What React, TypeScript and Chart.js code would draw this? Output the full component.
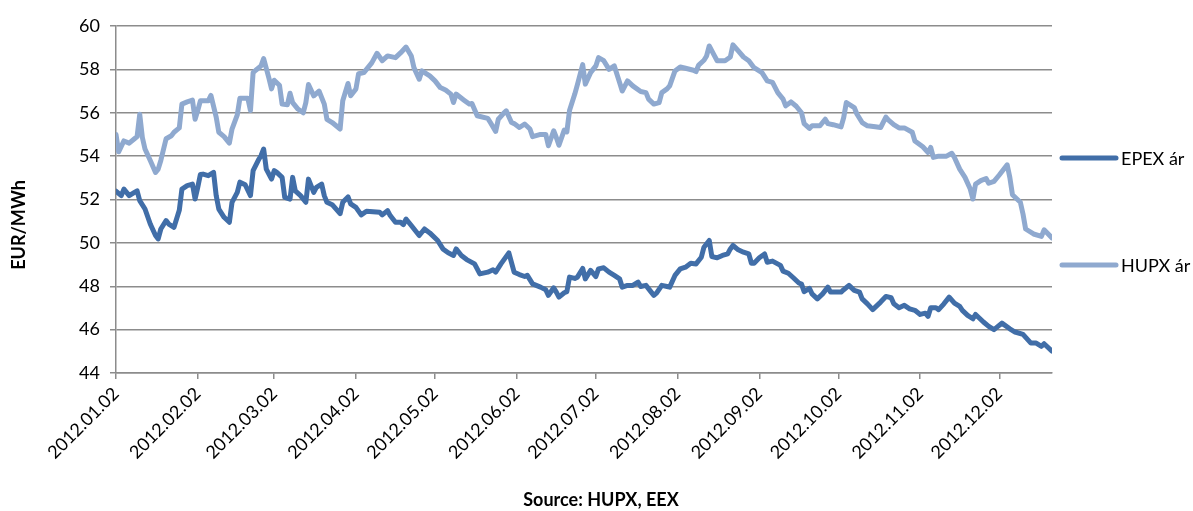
import React, { useEffect, useRef } from "react";
import { Chart, registerables } from "chart.js";

Chart.register(...registerables);

// Days counted from 2012.01.02 (day 0)
const monthTickDays = [0, 31, 60, 91, 121, 152, 182, 213, 244, 274, 305, 335];
const monthTickLabels = [
  "2012.01.02", "2012.02.02", "2012.03.02", "2012.04.02", "2012.05.02", "2012.06.02",
  "2012.07.02", "2012.08.02", "2012.09.02", "2012.10.02", "2012.11.02", "2012.12.02",
];

const epexDays = [
  0, 2, 3, 5, 7, 8, 9, 11, 13, 15, 16, 17, 19, 20, 22, 24, 25, 27, 29, 30, 31, 32, 33, 35, 37, 38, 39, 41, 43, 44,
  46, 47, 49, 51, 52, 54, 55, 56, 57, 59, 60, 61, 63, 64, 66, 67, 68, 70, 72, 73, 75, 76, 78, 79, 80, 82, 85, 86, 88, 89,
  91, 93, 95, 100, 101, 103, 104, 106, 108, 109, 110, 112, 115, 117, 119, 122, 124, 126, 128, 129, 131, 133, 136, 138, 141, 143, 144, 146, 149, 151,
  153, 155, 156, 158, 161, 163, 164, 166, 167, 168, 170, 171, 172, 174, 175, 177, 178, 180, 182, 183, 185, 187, 189, 191, 192, 194, 196, 198, 199, 201,
  203, 204, 205, 207, 209, 210, 212, 214, 216, 218, 220, 222, 223, 225, 226, 228, 230, 232, 233, 234, 236, 238, 240, 241, 242, 244, 246, 247, 249, 252,
  253, 255, 257, 259, 260, 261, 263, 264, 266, 268, 270, 271, 275, 276, 278, 280, 282, 283, 285, 287, 290, 292, 294, 295, 297, 299, 301, 303, 305, 307,
  308, 309, 311, 312, 314, 316, 318, 320, 321, 323, 325, 326, 329, 331, 333, 336, 339, 341, 344, 347, 349, 351, 352, 355,
];
const epexValues = [
  52.38, 52.18, 52.48, 52.18, 52.33, 52.4, 51.95, 51.56, 50.87, 50.34, 50.18, 50.64, 51.03, 50.87, 50.72, 51.5, 52.48, 52.64, 52.71, 52.02, 52.56, 53.15, 53.17, 53.1, 53.25, 52.18, 51.56, 51.18, 50.95, 51.87,
  52.33, 52.8, 52.68, 52.18, 53.33, 53.82, 54.02, 54.33, 53.4, 52.94, 53.33, 53.25, 53.02, 52.1, 52.02, 53.02, 52.4, 52.18, 51.87, 52.94, 52.33, 52.56, 52.71, 52.18, 51.87, 51.76, 51.35, 51.87, 52.12, 51.8,
  51.64, 51.29, 51.46, 51.41, 51.29, 51.49, 51.26, 50.95, 50.95, 50.84, 51.1, 50.8, 50.34, 50.64, 50.46, 50.11, 49.72, 49.54, 49.42, 49.72, 49.42, 49.23, 49.03, 48.57, 48.65, 48.76, 48.65, 49.03, 49.54, 48.65,
  48.54, 48.45, 48.5, 48.11, 47.96, 47.84, 47.58, 47.93, 47.73, 47.5, 47.7, 47.75, 48.42, 48.36, 48.42, 48.82, 48.34, 48.73, 48.45, 48.8, 48.85, 48.65, 48.5, 48.34, 47.96, 48.04, 48.04, 48.19, 47.99, 48.04,
  47.73, 47.58, 47.68, 48.04, 47.99, 47.96, 48.5, 48.8, 48.88, 49.06, 49.03, 49.34, 49.8, 50.11, 49.37, 49.31, 49.42, 49.49, 49.72, 49.88, 49.68, 49.57, 49.49, 49.06, 49.06, 49.31, 49.49, 49.11, 49.16, 48.96,
  48.7, 48.6, 48.38, 48.15, 48.1, 47.75, 47.9, 47.65, 47.42, 47.65, 47.96, 47.73, 47.73, 47.84, 48.04, 47.81, 47.73, 47.42, 47.19, 46.92, 47.27, 47.53, 47.47, 47.19, 47.01, 47.12, 46.96, 46.89, 46.7, 46.76,
  46.61, 47.01, 47.01, 46.92, 47.19, 47.5, 47.22, 47.07, 46.89, 46.66, 46.5, 46.7, 46.35, 46.15, 46.0, 46.3, 46.04, 45.89, 45.78, 45.38, 45.38, 45.23, 45.35, 45.01,
];

const hupxDays = [
  0, 1, 3, 5, 7, 8, 9, 10, 11, 13, 15, 16, 17, 19, 21, 22, 24, 25, 27, 29, 30, 31, 32, 35, 36, 38, 39, 41, 43, 44,
  46, 47, 50, 51, 52, 53, 55, 56, 58, 59, 60, 62, 63, 65, 66, 67, 69, 71, 72, 73, 75, 77, 79, 80, 82, 85, 86, 88, 89, 91,
  92, 94, 97, 99, 101, 103, 106, 108, 110, 112, 113, 115, 116, 119, 121, 123, 125, 127, 128, 129, 132, 134, 135, 137, 141, 142, 144, 145, 147, 148,
  150, 151, 153, 155, 157, 158, 161, 163, 164, 166, 167, 168, 170, 171, 172, 174, 175, 177, 178, 180, 182, 183, 185, 187, 189, 191, 192, 194, 196, 199,
  201, 202, 204, 206, 207, 209, 210, 212, 214, 216, 219, 220, 221, 223, 224, 225, 227, 228, 231, 233, 234, 236, 238, 240, 242, 245, 247, 249, 251, 253,
  254, 256, 258, 260, 261, 263, 264, 267, 269, 270, 272, 275, 276, 277, 280, 281, 283, 285, 288, 290, 292, 293, 295, 297, 299, 302, 303, 306, 308, 309,
  310, 312, 315, 317, 318, 320, 322, 324, 325, 326, 328, 330, 331, 333, 335, 338, 339, 340, 343, 344, 345, 348, 351, 352, 355,
];
const hupxValues = [
  55.0, 54.2, 54.7, 54.6, 54.8, 54.9, 55.93, 54.86, 54.33, 53.8, 53.25, 53.4, 53.8, 54.8, 54.94, 55.1, 55.3, 56.4, 56.5, 56.58, 55.7, 56.1, 56.55, 56.55, 56.8, 55.8, 55.1, 54.9, 54.6, 55.25,
  55.9, 56.67, 56.67, 56.1, 57.85, 57.96, 58.16, 58.5, 57.6, 57.1, 57.5, 57.27, 56.4, 56.37, 56.9, 56.47, 56.17, 56.0, 56.47, 57.3, 56.78, 57.0, 56.4, 55.7, 55.55, 55.25, 56.55, 57.35, 56.78, 57.1,
  57.8, 57.85, 58.3, 58.74, 58.4, 58.62, 58.54, 58.77, 59.03, 58.62, 58.08, 57.55, 57.93, 57.7, 57.47, 57.16, 57.05, 56.86, 56.47, 56.86, 56.58, 56.4, 56.43, 55.86, 55.74, 55.55, 55.14, 55.7, 55.97, 56.09,
  55.55, 55.5, 55.32, 55.48, 55.25, 54.9, 55.0, 55.0, 54.48, 55.17, 54.86, 54.5, 55.2, 55.12, 56.1, 56.86, 57.3, 58.22, 57.32, 57.85, 58.16, 58.54, 58.4, 58.0, 58.16, 57.4, 57.0, 57.47, 57.24, 56.98,
  56.93, 56.63, 56.4, 56.47, 56.93, 57.1, 57.24, 57.93, 58.11, 58.05, 57.96, 57.9, 58.2, 58.42, 58.62, 59.08, 58.62, 58.4, 58.4, 58.57, 59.13, 58.85, 58.57, 58.4, 58.08, 57.85, 57.47, 57.4, 56.93, 56.63,
  56.32, 56.5, 56.3, 56.0, 55.5, 55.28, 55.4, 55.4, 55.7, 55.5, 55.45, 55.35, 55.78, 56.47, 56.24, 55.94, 55.55, 55.4, 55.35, 55.32, 55.8, 55.66, 55.45, 55.3, 55.3, 55.1, 54.7, 54.43, 54.17, 54.4,
  53.94, 54.0, 54.0, 54.13, 53.94, 53.4, 53.02, 52.48, 52.02, 52.71, 52.87, 52.97, 52.75, 52.84, 53.13, 53.6, 53.02, 52.22, 51.87, 51.33, 50.64, 50.41, 50.3, 50.6, 50.23,
];

const seriesLabels = ["EPEX ár", "HUPX ár"];
const seriesColors = ["#416EA8", "#8FA9CF"];
const yAxisTitle = "EUR/MWh";
const sourceText = "Source: HUPX, EEX";

const FONT = "Lato, 'Open Sans', sans-serif";

const decorPlugin = {
  id: "decor",
  afterDraw(chart: any) {
    const ctx = chart.ctx;
    const area = chart.chartArea;
    ctx.save();
    // y-axis title
    ctx.fillStyle = "#000";
    ctx.font = `bold 18px ${FONT}`;
    ctx.textAlign = "center";
    ctx.textBaseline = "middle";
    ctx.save();
    ctx.translate(19, 225);
    ctx.rotate(-Math.PI / 2);
    ctx.fillText(yAxisTitle, 0, 0);
    ctx.restore();
    // source title
    ctx.fillText(sourceText, 601, 500);
    // legend
    ctx.font = `18px ${FONT}`;
    ctx.textAlign = "left";
    const legendY = [158, 265];
    chart.data.datasets.forEach((ds: any, i: number) => {
      const y = legendY[i];
      ctx.strokeStyle = ds.borderColor;
      ctx.lineWidth = 5;
      ctx.lineCap = "round";
      ctx.beginPath();
      ctx.moveTo(area.right + 10, y);
      ctx.lineTo(area.right + 64, y);
      ctx.stroke();
      ctx.fillStyle = "#000";
      ctx.fillText(ds.label, area.right + 69, y + 1);
    });
    ctx.restore();
  },
};

export default function App() {
  const canvasRef = useRef<HTMLCanvasElement | null>(null);

  useEffect(() => {
    if (!canvasRef.current) return;
    const chart = new Chart(canvasRef.current, {
      type: "line",
      data: {
        datasets: [
          {
            label: seriesLabels[0],
            data: epexDays.map((d, i) => ({ x: d, y: epexValues[i] })),
            borderColor: seriesColors[0],
            backgroundColor: seriesColors[0],
            borderWidth: 5,
            pointRadius: 0,
            tension: 0,
            borderJoinStyle: "round",
            borderCapStyle: "round",
          },
          {
            label: seriesLabels[1],
            data: hupxDays.map((d, i) => ({ x: d, y: hupxValues[i] })),
            borderColor: seriesColors[1],
            backgroundColor: seriesColors[1],
            borderWidth: 5,
            pointRadius: 0,
            tension: 0,
            borderJoinStyle: "round",
            borderCapStyle: "round",
          },
        ],
      },
      options: {
        responsive: false,
        animation: false,
        layout: { padding: { top: 26, right: 141, left: 0, bottom: 0 } },
        plugins: {
          legend: { display: false },
          tooltip: { enabled: false },
        },
        scales: {
          x: {
            type: "linear",
            min: 0,
            max: 355,
            afterBuildTicks: (scale: any) => {
              scale.ticks = monthTickDays.map((v) => ({ value: v }));
            },
            afterFit: (scale: any) => {
              scale.height = 138;
            },
            ticks: {
              autoSkip: false,
              minRotation: 45,
              maxRotation: 45,
              padding: 4,
              color: "#000",
              font: { family: FONT, size: 18 },
              callback: (value: any) => {
                const idx = monthTickDays.indexOf(Number(value));
                return idx >= 0 ? monthTickLabels[idx] : "";
              },
            },
            grid: {
              drawOnChartArea: false,
              drawTicks: true,
              tickLength: 6,
              color: "#8C8C8C",
              lineWidth: 1.5,
            },
            border: { display: true, color: "#8C8C8C", width: 1.5 },
          },
          y: {
            min: 44,
            max: 60,
            afterFit: (scale: any) => {
              scale.width = 116;
            },
            ticks: {
              stepSize: 2,
              padding: 10,
              color: "#000",
              font: { family: FONT, size: 18 },
            },
            grid: {
              color: "#8C8C8C",
              lineWidth: 1.5,
              tickLength: 6,
            },
            border: { display: true, color: "#8C8C8C", width: 1.5 },
          },
        },
      },
      plugins: [decorPlugin],
    } as any);
    return () => chart.destroy();
  }, []);

  return (
    <div style={{ position: "absolute", left: 0, top: 0, width: 1193, height: 511, background: "#fff" }}>
      <canvas ref={canvasRef} width={1193} height={511} style={{ display: "block" }} />
    </div>
  );
}
